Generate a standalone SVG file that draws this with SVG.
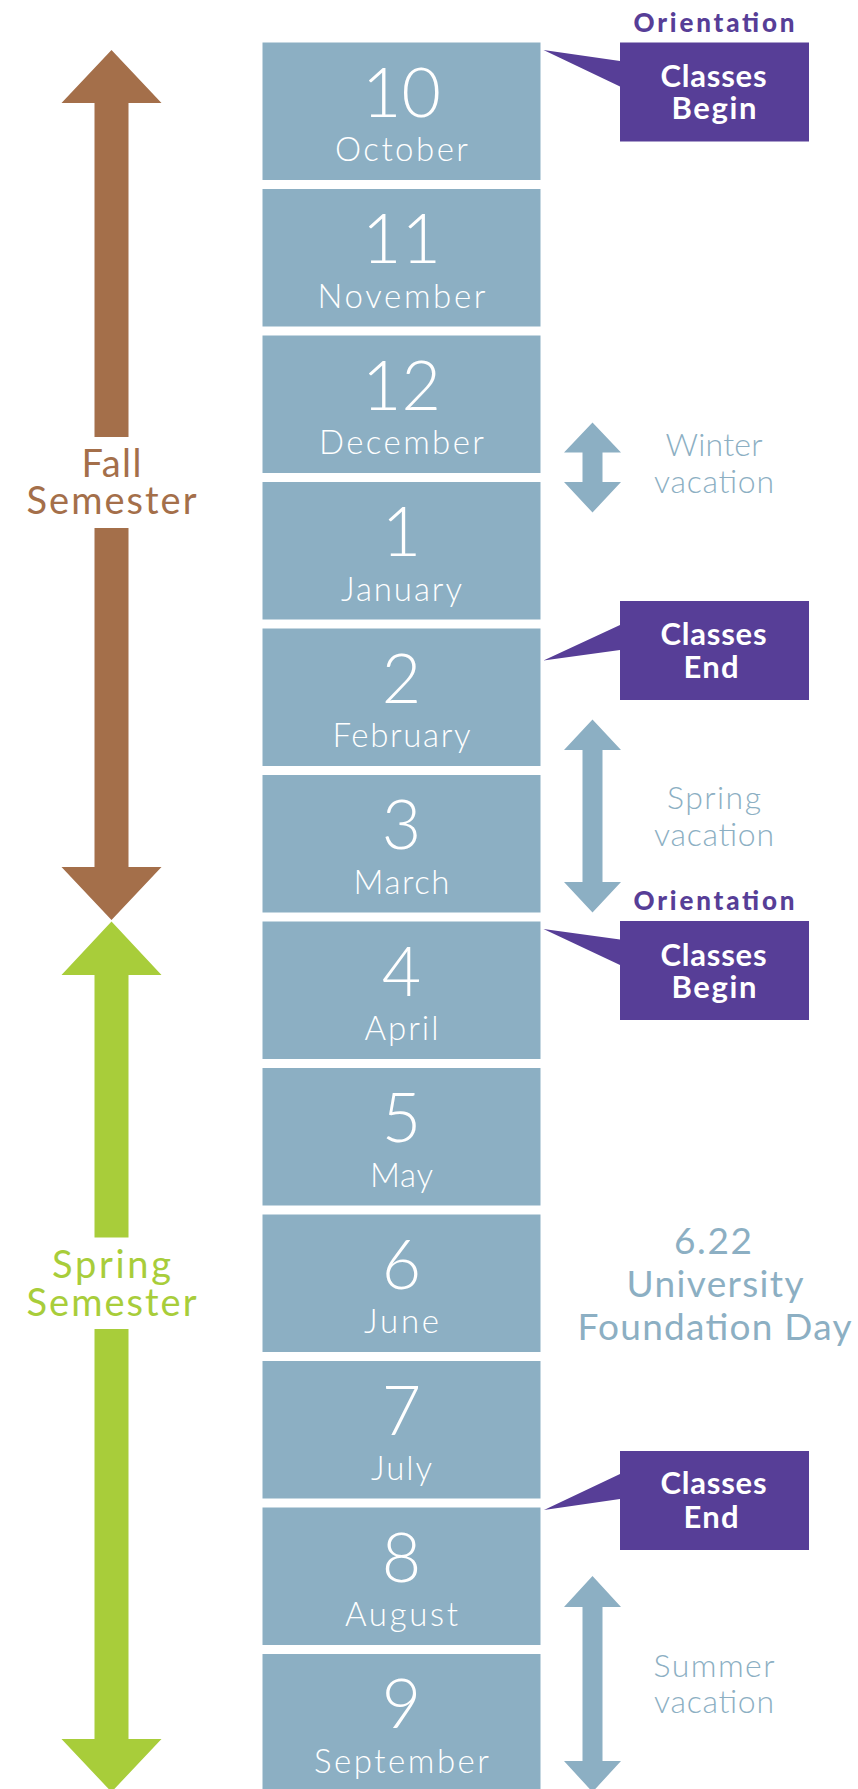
<svg xmlns="http://www.w3.org/2000/svg" width="858" height="1789" viewBox="0 0 858 1789">
<style>
.box{fill:#8CAFC3}
.num{font-family:Lato,"Open Sans",sans-serif;font-weight:300;font-size:68px;fill:#fff;text-anchor:middle}
.mon{font-family:Lato,"Open Sans",sans-serif;font-weight:300;font-size:33px;fill:#fff;text-anchor:middle}
.vac{font-family:Lato,"Open Sans",sans-serif;font-weight:300;font-size:32px;fill:#8CAFC3;text-anchor:middle}
.day{font-family:Lato,"Open Sans",sans-serif;font-weight:400;font-size:37px;fill:#8CAFC3;text-anchor:middle}
.call{fill:#573E97}
.ctx{font-family:Lato,"Open Sans",sans-serif;font-weight:700;font-size:31px;fill:#fff;text-anchor:middle}
.ori{font-family:Lato,"Open Sans",sans-serif;font-weight:900;font-size:26px;fill:#573E97;text-anchor:middle}
.sem{font-family:Lato,"Open Sans",sans-serif;font-weight:400;font-size:38px;text-anchor:middle}
.vacarrow{fill:#8CAFC3}
</style>
<rect width="858" height="1789" fill="#fff"/>
<g id="connectors">
  <polygon id="fall-arrow" fill="#A46F4A" points="111.5,50 161.5,103 128.5,103 128.5,437 94.5,437 94.5,103 61.5,103"/>
  <polygon fill="#A46F4A" points="94.5,528 128.5,528 128.5,867 161.5,867 111.5,920 61.5,867 94.5,867"/>
  <polygon id="spring-arrow" fill="#A8CD3A" points="111.5,921.5 161.5,975 128.5,975 128.5,1237.5 94.5,1237.5 94.5,975 61.5,975"/>
  <polygon fill="#A8CD3A" points="94.5,1329 128.5,1329 128.5,1739 161.5,1739 111.5,1792 61.5,1739 94.5,1739"/>
  <polygon id="winter-arrow" class="vacarrow" points="592.5,422.5 621,452.5 602.5,452.5 602.5,482 621,482 592.5,512.5 564,482 582.5,482 582.5,452.5 564,452.5"/>
  <polygon id="springvac-arrow" class="vacarrow" points="592.5,719.5 621,750 602.5,750 602.5,882 621,882 592.5,912.5 564,882 582.5,882 582.5,750 564,750"/>
  <polygon id="summer-arrow" class="vacarrow" points="592.5,1576 621,1607 602.5,1607 602.5,1761 621,1761 592.5,1792 564,1761 582.5,1761 582.5,1607 564,1607"/>
</g>
<g id="fall-label"><text class="sem" fill="#A46F4A" x="111.5" y="477" textLength="60" lengthAdjust="spacing">Fall</text><text class="sem" fill="#A46F4A" x="111.5" y="514" textLength="170" lengthAdjust="spacing">Semester</text></g>
<g id="spring-label"><text class="sem" fill="#A8CD3A" x="111.5" y="1278" textLength="119" lengthAdjust="spacing">Spring</text><text class="sem" fill="#A8CD3A" x="111.5" y="1315.5" textLength="170" lengthAdjust="spacing">Semester</text></g>
<g id="m10"><rect class="box" x="262.5" y="42.5" width="278" height="137.5"/><text class="num" x="401.5" y="116.5">10</text><text class="mon" x="401.5" y="161" textLength="133" lengthAdjust="spacing">October</text></g>
<g id="m11"><rect class="box" x="262.5" y="189" width="278" height="137.5"/><text class="num" x="401.5" y="263">11</text><text class="mon" x="401.5" y="307.5" textLength="168" lengthAdjust="spacing">November</text></g>
<g id="m12"><rect class="box" x="262.5" y="335.5" width="278" height="137.5"/><text class="num" x="401.5" y="409.5">12</text><text class="mon" x="401.5" y="454" textLength="165" lengthAdjust="spacing">December</text></g>
<g id="m1"><rect class="box" x="262.5" y="482" width="278" height="137.5"/><text class="num" x="401.5" y="556">1</text><text class="mon" x="401.5" y="600.5" textLength="121" lengthAdjust="spacing">January</text></g>
<g id="m2"><rect class="box" x="262.5" y="628.5" width="278" height="137.5"/><text class="num" x="401.5" y="702.5">2</text><text class="mon" x="401.5" y="747" textLength="138" lengthAdjust="spacing">February</text></g>
<g id="m3"><rect class="box" x="262.5" y="775" width="278" height="137.5"/><text class="num" x="401.5" y="849">3</text><text class="mon" x="401.5" y="893.5" textLength="96" lengthAdjust="spacing">March</text></g>
<g id="m4"><rect class="box" x="262.5" y="921.5" width="278" height="137.5"/><text class="num" x="401.5" y="995.5">4</text><text class="mon" x="401.5" y="1040" textLength="74" lengthAdjust="spacing">April</text></g>
<g id="m5"><rect class="box" x="262.5" y="1068" width="278" height="137.5"/><text class="num" x="401.5" y="1142">5</text><text class="mon" x="401.5" y="1186.5" textLength="63" lengthAdjust="spacing">May</text></g>
<g id="m6"><rect class="box" x="262.5" y="1214.5" width="278" height="137.5"/><text class="num" x="401.5" y="1288.5">6</text><text class="mon" x="401.5" y="1333" textLength="75" lengthAdjust="spacing">June</text></g>
<g id="m7"><rect class="box" x="262.5" y="1361" width="278" height="137.5"/><text class="num" x="401.5" y="1435">7</text><text class="mon" x="401.5" y="1479.5" textLength="61" lengthAdjust="spacing">July</text></g>
<g id="m8"><rect class="box" x="262.5" y="1507.5" width="278" height="137.5"/><text class="num" x="401.5" y="1581.5">8</text><text class="mon" x="401.5" y="1626" textLength="113" lengthAdjust="spacing">August</text></g>
<g id="m9"><rect class="box" x="262.5" y="1654" width="278" height="137.5"/><text class="num" x="401.5" y="1728">9</text><text class="mon" x="401.5" y="1772.5" textLength="175" lengthAdjust="spacing">September</text></g>
<g id="callout-fall-begin">
  <text class="ori" x="714" y="32" textLength="161" lengthAdjust="spacing">Orientation</text>
  <polygon class="call" points="543.5,50 620,61 620,42.5 809,42.5 809,141.5 620,141.5 620,86.5"/>
  <text class="ctx" x="713.5" y="87" textLength="106" lengthAdjust="spacing">Classes</text><text class="ctx" x="714" y="119" textLength="85" lengthAdjust="spacing">Begin</text>
</g>
<g id="callout-fall-end">
  <polygon class="call" points="543.5,660.5 620,625 620,601 809,601 809,700 620,700 620,650"/>
  <text class="ctx" x="713.5" y="645" textLength="106" lengthAdjust="spacing">Classes</text><text class="ctx" x="711" y="678" textLength="55" lengthAdjust="spacing">End</text>
</g>
<g id="callout-spring-begin">
  <text class="ori" x="714" y="910" textLength="161" lengthAdjust="spacing">Orientation</text>
  <polygon class="call" points="543.5,929 620,939.5 620,921 809,921 809,1020 620,1020 620,965"/>
  <text class="ctx" x="713.5" y="965.5" textLength="106" lengthAdjust="spacing">Classes</text><text class="ctx" x="714" y="997.5" textLength="85" lengthAdjust="spacing">Begin</text>
</g>
<g id="callout-spring-end">
  <polygon class="call" points="544,1510 620,1474 620,1451 809,1451 809,1550 620,1550 620,1499"/>
  <text class="ctx" x="713.5" y="1494" textLength="106" lengthAdjust="spacing">Classes</text><text class="ctx" x="711" y="1528" textLength="55" lengthAdjust="spacing">End</text>
</g>
<g id="winter-label"><text class="vac" x="714" y="456" textLength="97" lengthAdjust="spacing">Winter</text><text class="vac" x="714" y="493" textLength="120" lengthAdjust="spacing">vacation</text></g>
<g id="springvac-label"><text class="vac" x="714" y="809" textLength="94" lengthAdjust="spacing">Spring</text><text class="vac" x="714" y="845.5" textLength="120" lengthAdjust="spacing">vacation</text></g>
<g id="summer-label"><text class="vac" x="714" y="1676.5" textLength="121" lengthAdjust="spacing">Summer</text><text class="vac" x="714" y="1713" textLength="120" lengthAdjust="spacing">vacation</text></g>
<g id="foundation-day"><text class="day" x="713" y="1254" textLength="78" lengthAdjust="spacing">6.22</text><text class="day" x="715" y="1297" textLength="177" lengthAdjust="spacing">University</text><text class="day" x="714.5" y="1339.5" textLength="274" lengthAdjust="spacing">Foundation Day</text></g>
</svg>
